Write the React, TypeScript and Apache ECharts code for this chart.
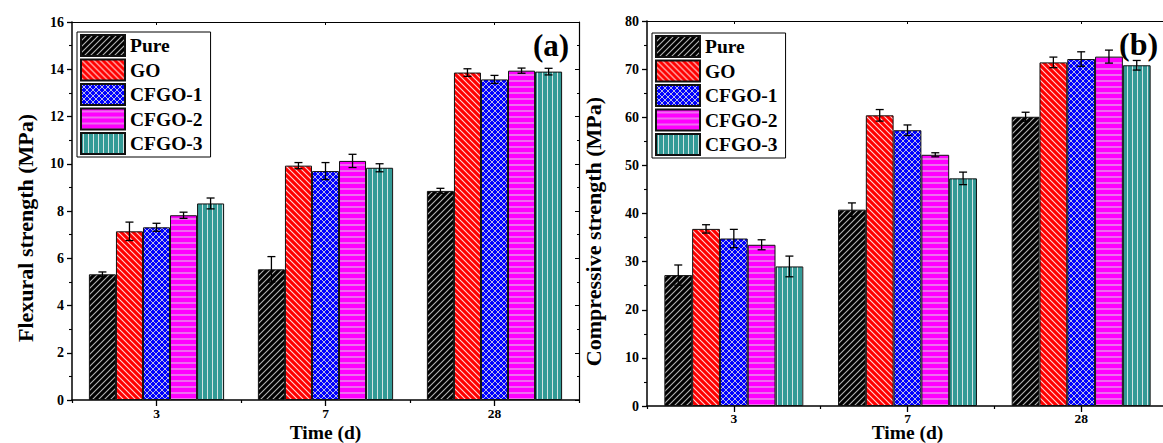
import React, { useEffect, useRef } from 'react';
import * as echarts from 'echarts';

const categories = ['3', '7', '28'];
const seriesNames = ['Pure', 'GO', 'CFGO-1', 'CFGO-2', 'CFGO-3'];

// Flexural strength (MPa)
const flexPure = [5.32, 5.53, 8.85];
const flexPureErr = [0.1, 0.54, 0.11];
const flexGO = [7.14, 9.92, 13.86];
const flexGOErr = [0.39, 0.13, 0.16];
const flexCF1 = [7.31, 9.69, 13.57];
const flexCF1Err = [0.17, 0.36, 0.17];
const flexCF2 = [7.82, 10.12, 13.94];
const flexCF2Err = [0.13, 0.28, 0.11];
const flexCF3 = [8.32, 9.83, 13.9];
const flexCF3Err = [0.23, 0.17, 0.14];

// Compressive strength (MPa)
const compPure = [27.2, 40.8, 60.1];
const compPureErr = [2.1, 1.4, 0.94];
const compGO = [36.8, 60.4, 71.4];
const compGOErr = [0.87, 1.2, 1.1];
const compCF1 = [34.8, 57.3, 72.1];
const compCF1Err = [1.9, 1.1, 1.5];
const compCF2 = [33.5, 52.2, 72.6];
const compCF2Err = [1.04, 0.42, 1.35];
const compCF3 = [29.0, 47.3, 70.8];
const compCF3Err = [2.15, 1.3, 1.0];

const flexMeans = [flexPure, flexGO, flexCF1, flexCF2, flexCF3];
const flexErrs = [flexPureErr, flexGOErr, flexCF1Err, flexCF2Err, flexCF3Err];
const compMeans = [compPure, compGO, compCF1, compCF2, compCF3];
const compErrs = [compPureErr, compGOErr, compCF1Err, compCF2Err, compCF3Err];

const FONT = 'Liberation Serif';
const GAP_RATIO = 0.2;

function makePattern(w: number, h: number, bg: string, stroke: string, lw: number, draw: (c: CanvasRenderingContext2D) => void) {
  const cv = document.createElement('canvas');
  cv.width = w;
  cv.height = h;
  const ctx = cv.getContext('2d')!;
  ctx.fillStyle = bg;
  ctx.fillRect(0, 0, w, h);
  ctx.strokeStyle = stroke;
  ctx.lineWidth = lw;
  ctx.beginPath();
  draw(ctx);
  ctx.stroke();
  return { image: cv, repeat: 'repeat', imageWidth: w, imageHeight: h } as any;
}

function buildPatterns() {
  const pure = makePattern(6, 6, '#000000', '#b4b4b4', 1.1, (c) => {
    c.moveTo(-1, 7); c.lineTo(7, -1);
    c.moveTo(-1, 1); c.lineTo(1, -1);
    c.moveTo(5, 7); c.lineTo(7, 5);
  });
  const go = makePattern(6, 6, '#ff0000', '#ffd6d6', 1.1, (c) => {
    c.moveTo(-1, -1); c.lineTo(7, 7);
    c.moveTo(5, -1); c.lineTo(7, 1);
    c.moveTo(-1, 5); c.lineTo(1, 7);
  });
  const cf1 = makePattern(6, 6, '#0000ff', '#b8b8e6', 1, (c) => {
    c.moveTo(-1, -1); c.lineTo(7, 7);
    c.moveTo(-1, 7); c.lineTo(7, -1);
  });
  const cf2 = makePattern(6, 6, '#ff00ff', '#dcdcdc', 1, (c) => {
    c.moveTo(0, 3); c.lineTo(6, 3);
  });
  const cf3 = makePattern(5, 5, '#339a96', '#d4e4e4', 1, (c) => {
    c.moveTo(2.5, 0); c.lineTo(2.5, 5);
  });
  return [pure, go, cf1, cf2, cf3];
}

const App: React.FC = () => {
  const ref = useRef<HTMLDivElement>(null);

  useEffect(() => {
    if (!ref.current) return;
    const chart = echarts.init(ref.current, null, { renderer: 'svg' });
    const patterns = buildPatterns();

    const labelStyle = { fontFamily: FONT, fontWeight: 'bold' as const, fontSize: 14, color: '#000' };
    const lineStyle = { color: '#000', width: 1.5 };

    const xAxesFor = (grid: number, labelMargin: number, nameGap: number) => [
      {
        type: 'category', gridIndex: grid, data: categories, position: 'bottom',
        axisLine: { show: true, onZero: false, lineStyle },
        axisTick: { show: true, alignWithLabel: true, length: 6, lineStyle: { color: '#000', width: 1.3 } },
        axisLabel: { ...labelStyle, fontSize: 13.5, lineHeight: 10, margin: labelMargin },
        name: 'Time (d)', nameLocation: 'middle', nameGap, nameMoveOverlap: false,
        nameTextStyle: { fontFamily: FONT, fontWeight: 'bold', fontSize: 19.5, lineHeight: 14, color: '#000' },
        splitLine: { show: false },
      },
      {
        type: 'category', gridIndex: grid, data: categories, position: 'top',
        axisLine: { show: true, onZero: false, lineStyle: { color: '#000', width: 1.2 } },
        axisTick: { show: true, inside: true, alignWithLabel: true, length: 3, lineStyle: { color: '#000', width: 1 } },
        axisLabel: { show: false },
        splitLine: { show: false },
      },
      {
        type: 'category', gridIndex: grid, data: categories, position: 'bottom',
        axisLine: { show: false, onZero: false },
        axisTick: { show: true, alignWithLabel: false, length: 3, lineStyle: { color: '#000', width: 1.2 } },
        axisLabel: { show: false },
        splitLine: { show: false },
      },
    ];

    const yAxesFor = (grid: number, max: number, interval: number, name: string, nameGap: number, shift: number) => [
      {
        type: 'value', gridIndex: grid, min: 0, max, interval, position: 'left',
        axisLine: { show: true, onZero: false, lineStyle },
        axisTick: { show: true, inside: false, length: 5, lineStyle: { color: '#000', width: 1.3 } },
        minorTick: { show: true, splitNumber: 2, length: 3, lineStyle: { color: '#000', width: 1.1 } },
        axisLabel: { ...labelStyle, margin: 8 },
        splitLine: { show: false },
        minorSplitLine: { show: false },
        name, nameLocation: 'middle', nameGap, nameMoveOverlap: false,
        nameTextStyle: { fontFamily: FONT, fontWeight: 'bold', fontSize: 22, color: '#000', padding: [0, shift * 2, 0, 0] },
      },
      {
        type: 'value', gridIndex: grid, min: 0, max, interval, position: 'right',
        axisLine: { show: true, onZero: false, lineStyle: { color: '#000', width: 1.2 } },
        axisTick: { show: true, inside: true, length: 4, lineStyle: { color: '#000', width: 1 } },
        minorTick: { show: true, splitNumber: 2, length: 2, lineStyle: { color: '#000', width: 1 } },
        axisLabel: { show: false },
        splitLine: { show: false },
      },
    ];

    const barSeries = (means: number[][], xIdx: number, yIdx: number) =>
      means.map((vals, i) => ({
        type: 'bar', name: seriesNames[i], xAxisIndex: xIdx, yAxisIndex: yIdx,
        data: vals, barGap: '0%', barCategoryGap: `${GAP_RATIO * 100}%`,
        itemStyle: { color: patterns[i], borderColor: '#111', borderWidth: 1 },
        z: 2,
      }));

    const errSeries = (means: number[][], errs: number[][], xIdx: number, yIdx: number, tag: string) =>
      means.map((vals, i) => ({
        type: 'custom', name: `${tag}-err-${i}`, xAxisIndex: xIdx, yAxisIndex: yIdx,
        data: vals.map((m, k) => [k, m, errs[i][k]]),
        encode: { x: 0, y: 1 },
        z: 5,
        renderItem: (params: any, api: any) => {
          const idx = api.value(0);
          const m = api.value(1);
          const e = api.value(2);
          const band = api.size([1, 0])[0];
          const bw = (band * (1 - GAP_RATIO)) / seriesNames.length;
          const c = api.coord([idx, m]);
          const x = c[0] + (i - 2) * bw;
          const yt = api.coord([idx, m + e])[1];
          const yb = api.coord([idx, m - e])[1];
          const hw = 4;
          const st = { stroke: '#000', lineWidth: 1.3 };
          return {
            type: 'group',
            children: [
              { type: 'line', shape: { x1: x, y1: yt, x2: x, y2: yb }, style: st },
              { type: 'line', shape: { x1: x - hw, y1: yt, x2: x + hw, y2: yt }, style: st },
              { type: 'line', shape: { x1: x - hw, y1: yb, x2: x + hw, y2: yb }, style: st },
            ],
          };
        },
      }));

    const legendFor = (left: number, top: number) => ({
      orient: 'vertical', left, top, data: seriesNames, icon: 'rect',
      itemWidth: 44, itemHeight: 21, itemGap: 1.5,
      padding: [2, 8, 2, 3],
      backgroundColor: '#fff', borderColor: '#000', borderWidth: 1,
      selectedMode: false,
      textStyle: { fontFamily: FONT, fontWeight: 'bold', fontSize: 19.5, lineHeight: 20, color: '#000' },
    });

    chart.setOption({
      animation: false,
      grid: [
        { left: 72, top: 22, width: 507, height: 378, containLabel: false, outerBoundsMode: 'none' },
        { left: 647, top: 21, width: 521, height: 385, containLabel: false, outerBoundsMode: 'none' },
      ],
      xAxis: [...xAxesFor(0, 8.8, 25.1), ...xAxesFor(1, 7, 19.1)],
      yAxis: [
        ...yAxesFor(0, 16, 2, 'Flexural strength (MPa)', 36, 17),
        ...yAxesFor(1, 80, 10, 'Compressive strength (MPa)', 43, 18),
      ],
      legend: [legendFor(77, 32), legendFor(652, 33)],
      series: [
        ...barSeries(flexMeans, 0, 0),
        ...barSeries(compMeans, 3, 2),
        ...errSeries(flexMeans, flexErrs, 0, 0, 'a'),
        ...errSeries(compMeans, compErrs, 3, 2, 'b'),
      ],
      graphic: [
        { type: 'text', x: 533, y: 30, z: 10, style: { text: '(a)', font: `bold 31px "${FONT}"`, fill: '#000' } },
        { type: 'text', x: 1119, y: 28, z: 10, style: { text: '(b)', font: `bold 32px "${FONT}"`, fill: '#000' } },
      ],
    } as any);

    return () => {
      chart.dispose();
    };
  }, []);

  return (
    <div
      ref={ref}
      style={{ position: 'fixed', left: 0, top: 0, width: 1163, height: 443, background: '#fff' }}
    />
  );
};

export default App;
